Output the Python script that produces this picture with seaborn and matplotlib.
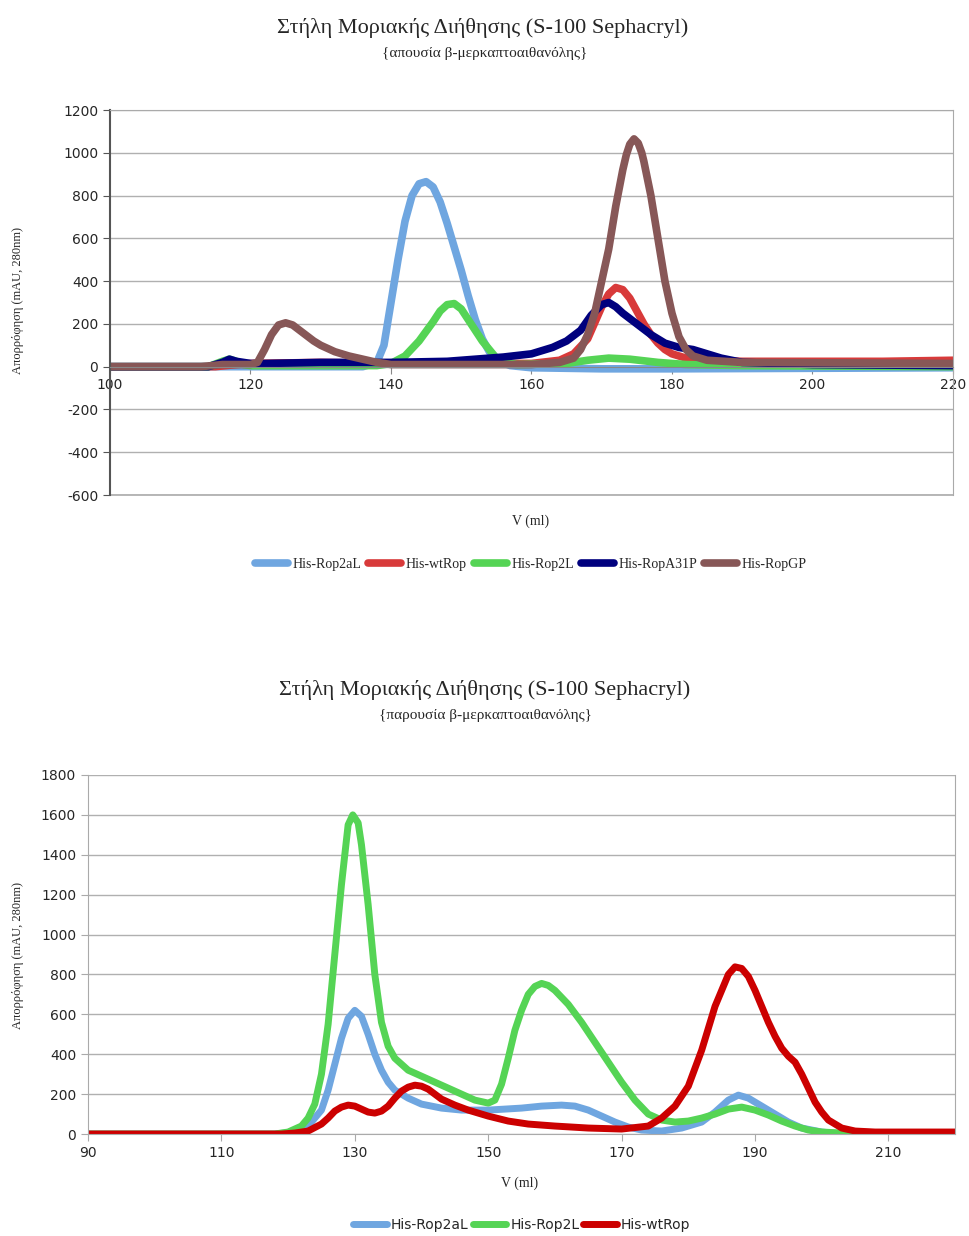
import numpy as np
import pandas as pd
import seaborn as sns
import matplotlib.pyplot as plt

# Top chart: absence of beta-mercaptoethanol
top_names = ['His-Rop2aL', 'His-wtRop', 'His-Rop2L', 'His-RopA31P', 'His-RopGP']
top_colors = ['#6fa6e0', '#d83a3a', '#55d455', '#00007e', '#875757']

rop2al_x = [100, 136, 138, 139, 140, 141, 142, 143, 144, 145, 146, 147, 148, 149, 150, 151, 152, 153, 154, 155, 157, 160, 170, 180, 220]
rop2al_y = [0, 0, 20, 100, 300, 500, 680, 800, 855, 865, 840, 770, 670, 560, 450, 330, 220, 130, 70, 30, 5, -5, -10, -10, -5]

wtrop_x = [100, 115, 118, 120, 130, 140, 150, 160, 164, 166, 168, 170, 171, 172, 173, 174, 175, 176, 177, 178, 179, 180, 182, 185, 190, 200, 210, 220]
wtrop_y = [0, 0, 10, 15, 20, 15, 15, 15, 30, 60, 130, 280, 340, 370, 360, 320, 260, 200, 150, 110, 80, 60, 40, 30, 25, 25, 25, 30]

rop2l_x = [100, 114, 116, 117, 118, 119, 120, 138, 140, 142, 144, 146, 147, 148, 149, 150, 151, 152, 153, 154, 155, 156, 158, 165, 168, 171, 174, 178, 182, 190, 220]
rop2l_y = [0, 0, 25, 35, 25, 10, 5, 5, 15, 50, 120, 210, 260, 290, 295, 270, 220, 170, 120, 80, 40, 20, 10, 15, 30, 40, 35, 20, 10, 5, 0]

a31p_x = [100, 114, 116, 117, 118, 120, 122, 130, 140, 148, 152, 156, 160, 163, 165, 167, 168.5, 170, 171, 172, 173, 175, 177, 179, 181, 183, 185, 187, 190, 195, 200, 220]
a31p_y = [0, 0, 20, 35, 25, 15, 15, 20, 20, 25, 35, 45, 60, 90, 120, 170, 240, 290, 300, 280, 250, 200, 150, 110, 90, 80, 60, 40, 20, 15, 10, 5]

gp_x = [100, 113, 116, 120, 121, 122, 123, 124, 125, 126, 127, 128, 129, 130, 131, 132, 134, 136, 138, 140, 150, 160, 164, 166, 167, 168, 169, 170, 171, 172, 173, 173.5, 174, 174.6, 175.2, 175.7, 176, 177, 178, 179, 180, 181, 182, 183, 185, 190, 220]
gp_y = [0, 0, 10, 10, 20, 80, 150, 195, 205, 195, 170, 145, 120, 100, 85, 70, 50, 35, 20, 10, 10, 10, 20, 40, 80, 150, 250, 400, 550, 750, 920, 990, 1040, 1065, 1045, 1000, 960, 800, 600, 400, 250, 140, 80, 50, 30, 20, 15]

# Bottom chart: presence of beta-mercaptoethanol
bot_names = ['His-Rop2aL', 'His-Rop2L', 'His-wtRop']
bot_colors = ['#6fa6e0', '#55d455', '#cc0000']

b_rop2al_x = [90, 118, 121, 123, 125, 126, 127, 128, 129, 130, 131, 132, 133, 134, 135, 136, 138, 140, 143, 146, 150, 155, 158, 161, 163, 165, 167, 169, 171, 173, 176, 179, 182, 184, 186, 187.5, 189, 191, 193, 195, 197, 200, 203, 220]
b_rop2al_y = [0, 0, 10, 40, 120, 220, 350, 480, 580, 620, 590, 500, 400, 320, 260, 220, 180, 150, 130, 120, 120, 130, 140, 145, 140, 120, 90, 60, 35, 20, 15, 30, 60, 110, 170, 195, 180, 140, 100, 60, 30, 10, 0, 0]

b_rop2l_x = [90, 118, 120, 122, 123, 124, 125, 126, 127, 128, 129, 129.7, 130.5, 131, 132, 133, 134, 135, 136, 138, 140, 142, 144, 146, 148, 150, 151, 152, 153, 154, 155, 156, 157, 158, 159, 160, 162, 164, 166, 168, 170, 172, 174, 176, 178, 180, 182, 184, 186, 188, 190, 192, 194, 196, 198, 200, 203, 220]
b_rop2l_y = [0, 0, 10, 40, 80, 150, 300, 550, 900, 1250, 1550, 1600, 1560, 1450, 1150, 800, 560, 440, 380, 320, 290, 260, 230, 200, 170, 155, 170, 250, 380, 520, 620, 700, 740, 755, 745, 720, 650, 560, 460, 360, 260, 170, 100, 70, 60, 65, 80, 100, 125, 135, 120, 95, 65, 40, 20, 10, 5, 0]

b_wtrop_x = [90, 119, 121, 123, 125, 126, 127, 128, 129, 130, 131, 132, 133, 134, 135, 136, 137, 138, 139, 140, 141, 142, 143, 145, 147, 150, 153, 156, 160, 165, 170, 174, 176, 178, 180, 182, 184, 186, 187, 188, 189, 190, 191, 192, 193, 194, 195, 196, 197, 198, 199, 200, 201, 203, 205, 208, 220]
b_wtrop_y = [0, 0, 5, 15, 50, 80, 115, 135, 145, 140, 125, 110, 105, 115, 140, 180, 215, 235, 245, 240, 225, 200, 175, 145, 120, 90, 65, 50, 40, 30, 25, 40, 80, 140, 240, 420, 640, 800, 838, 830, 790, 720, 640, 560, 490, 430, 390, 360, 300, 230, 160, 110, 70, 30, 15, 10, 10]

top_df = pd.concat([
    pd.DataFrame({'V': x, 'A': y, 'series': n})
    for n, x, y in zip(top_names,
                       [rop2al_x, wtrop_x, rop2l_x, a31p_x, gp_x],
                       [rop2al_y, wtrop_y, rop2l_y, a31p_y, gp_y])
])
bot_df = pd.concat([
    pd.DataFrame({'V': x, 'A': y, 'series': n})
    for n, x, y in zip(bot_names,
                       [b_rop2al_x, b_rop2l_x, b_wtrop_x],
                       [b_rop2al_y, b_rop2l_y, b_wtrop_y])
])

sns.set_style('white')
plt.rcParams['font.family'] = ['DejaVu Sans']
plt.rcParams['axes.unicode_minus'] = False
serif = ['Liberation Serif', 'DejaVu Serif']

fig = plt.figure(figsize=(9.7, 12.36), dpi=100)
ax1 = fig.add_axes([0.1134, 0.5995, 0.869, 0.3115])
ax2 = fig.add_axes([0.0907, 0.0825, 0.894, 0.2905])

# ---- top chart
sns.lineplot(data=top_df, x='V', y='A', hue='series', hue_order=top_names,
             palette=top_colors, estimator=None, sort=False, linewidth=5.5,
             ax=ax1, legend=True)
for line in ax1.get_lines():
    line.set_solid_joinstyle('round')
ax1.set_xlim(100, 220)
ax1.set_ylim(-600, 1200)
ax1.set_xticks(range(100, 221, 20))
ax1.set_yticks(range(-600, 1201, 200))
ax1.yaxis.grid(True, color='#b0b0b0', linewidth=1)
ax1.set_axisbelow(True)
ax1.axhline(-600, color='#aaaaaa', linewidth=1.2, clip_on=False, zorder=0)
ax1.spines['bottom'].set_position(('data', 0))
ax1.spines['bottom'].set_color('#888888')
ax1.spines['left'].set_color('#555555')
ax1.spines['left'].set_linewidth(1.5)
for s in ['top', 'right']:
    ax1.spines[s].set_color('#aaaaaa')
ax1.tick_params(axis='y', left=True, length=5, color='#555555', labelsize=10)
ax1.tick_params(axis='x', bottom=True, length=5, color='#888888', labelsize=10, pad=3)
ax1.set_xlabel('')
ax1.set_ylabel('')
h, l = ax1.get_legend_handles_labels()
ax1.legend(h, l, loc='center', bbox_to_anchor=(0.547, 0.543), bbox_transform=fig.transFigure,
           ncol=5, frameon=False, handlelength=2.4, handletextpad=0.3, columnspacing=0.5,
           prop={'family': serif, 'size': 10})

fig.text(0.498, 0.977, 'Στήλη Μοριακής Διήθησης (S-100 Sephacryl)', ha='center', va='center',
         family=serif, fontsize=16)
fig.text(0.5, 0.957, '{απουσία β-μερκαπτοαιθανόλης}', ha='center', va='center',
         family=serif, fontsize=11)
fig.text(0.547, 0.5785, 'V (ml)', ha='center', va='center', family=serif, fontsize=10)
fig.text(0.0186, 0.757, 'Απορρόφηση (mAU, 280nm)', ha='center', va='center', rotation=90,
         family=serif, fontsize=9)

# ---- bottom chart
sns.lineplot(data=bot_df, x='V', y='A', hue='series', hue_order=bot_names,
             palette=bot_colors, estimator=None, sort=False, linewidth=5,
             ax=ax2, legend=True)
for line in ax2.get_lines():
    line.set_solid_joinstyle('round')
ax2.set_xlim(90, 220)
ax2.set_ylim(0, 1800)
ax2.set_xticks(range(90, 211, 20))
ax2.set_yticks(range(0, 1801, 200))
ax2.yaxis.grid(True, color='#b0b0b0', linewidth=1)
ax2.set_axisbelow(True)
ax2.spines['top'].set_visible(False)
for s in ['left', 'right', 'bottom']:
    ax2.spines[s].set_color('#aaaaaa')
ax2.tick_params(axis='y', left=True, length=5, color='#aaaaaa', labelsize=10)
ax2.tick_params(axis='x', bottom=True, length=5, color='#aaaaaa', labelsize=10)
ax2.set_xlabel('')
ax2.set_ylabel('')
h, l = ax2.get_legend_handles_labels()
ax2.legend(h, l, loc='center', bbox_to_anchor=(0.538, 0.009), bbox_transform=fig.transFigure,
           ncol=3, frameon=False, handlelength=2.4, handletextpad=0.3, columnspacing=0.3,
           prop={'size': 10})

fig.text(0.5, 0.442, 'Στήλη Μοριακής Διήθησης (S-100 Sephacryl)', ha='center', va='center',
         family=serif, fontsize=16)
fig.text(0.501, 0.421, '{παρουσία β-μερκαπτοαιθανόλης}', ha='center', va='center',
         family=serif, fontsize=11)
fig.text(0.536, 0.043, 'V (ml)', ha='center', va='center', family=serif, fontsize=10)
fig.text(0.0186, 0.227, 'Απορρόφηση (mAU, 280nm)', ha='center', va='center', rotation=90,
         family=serif, fontsize=9)

fig.savefig('out.png', dpi=100)
